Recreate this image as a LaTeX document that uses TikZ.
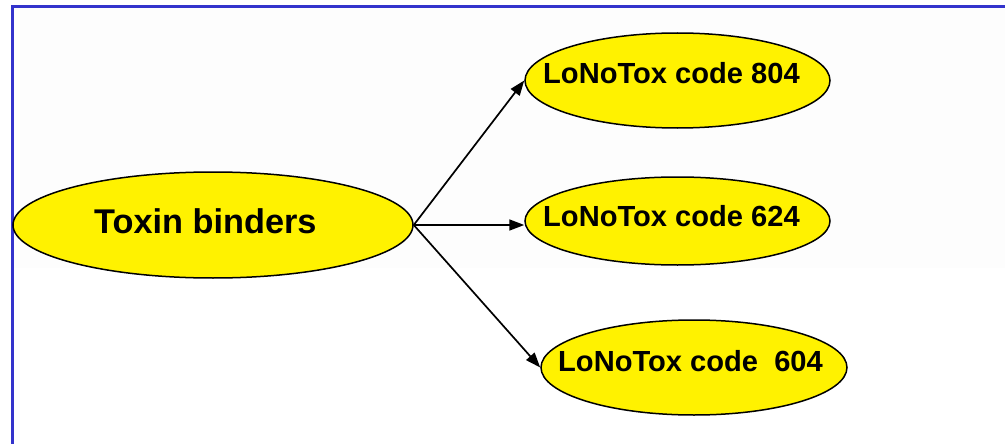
\documentclass[tikz,border=0pt]{standalone}
\usepackage{fontspec}
\setmainfont{Liberation Sans}
\usetikzlibrary{shapes.geometric,arrows.meta,calc}
\definecolor{framebl}{RGB}{51,51,204}
\definecolor{bggray}{RGB}{253,253,253}
\tikzset{
  oval/.style={ellipse, draw=black, line width=1.5pt, fill=yellow, inner sep=0pt},
  lbl/.style={anchor=base west, inner sep=0pt, font=\bfseries\fontsize{29.1}{32}\selectfont},
  conn/.style={line width=1.7pt, -{Triangle[length=15pt,width=11pt]}},
}
\begin{document}
\begin{tikzpicture}[x=1pt,y=-1pt]
\useasboundingbox (0,0) rectangle (1005,444);
\fill[bggray] (12,7) rectangle (1005,268);
\draw[framebl, line width=3pt] (12,444) -- (12,7) -- (1005,7);
\node[oval, minimum width=400pt, minimum height=106pt] (tox) at (213,225) {};
\node[anchor=base west, inner sep=0pt, font=\bfseries\fontsize{34.3}{38}\selectfont] (toxt) at (94,233) {Toxin binders};
\node[oval, minimum width=305pt, minimum height=95pt] (a) at (677.5,80.5) {};
\node[lbl] (at) at (543,84) {LoNoTox code 804};
\node[oval, minimum width=305pt, minimum height=88pt] (b) at (677.5,221) {};
\node[lbl] (bt) at (543,226) {LoNoTox code 624};
\node[oval, minimum width=306pt, minimum height=95pt] (c) at (694,367.5) {};
\node[lbl] (ct) at (558,371) {LoNoTox code \ 604};
\draw[conn] (tox.east) -- (a.west);
\draw[conn] (tox.east) -- (tox.east -| b.west);
\draw[conn] (tox.east) -- (c.west);
\end{tikzpicture}
\end{document}
